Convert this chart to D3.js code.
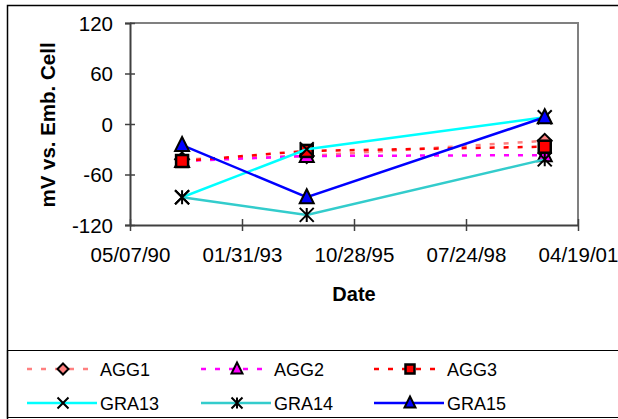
<!DOCTYPE html>
<html><head><meta charset="utf-8">
<script src="https://cdn.jsdelivr.net/npm/d3@7"></script>
<style>body{margin:0;background:#fff}svg{display:block;font-family:"Liberation Sans",Arial,sans-serif}</style>
</head><body><svg id="c" width="618" height="419"></svg>
<script>
const dates = ["1991-08-15", "1994-09-01", "2000-06-26"];
const seriesNames = ["AGG1", "AGG2", "AGG3", "GRA13", "GRA14", "GRA15"];
const AGG1 = [-42, -38, -20];
const AGG2 = [-44, -38, -37];
const AGG3 = [-44, -32, -27];
const GRA13 = [-87, -30, 8];
const GRA14 = [-87, -108, -42];
const GRA15 = [-25, -87, 8];
const yTicks = [-120, -60, 0, 60, 120];
const xTickLabels = ["05/07/90", "01/31/93", "10/28/95", "07/24/98", "04/19/01"];
const colors = ["#FF8080", "#FF00FF", "#FF0000", "#00FFFF", "#33CCCC", "#0000FF"];
const dashed = [true, true, true, false, false, false];
const markers = ["diamond", "triangle", "square", "x", "asterisk", "triangle"];
const values = [AGG1, AGG2, AGG3, GRA13, GRA14, GRA15];

const parse = d3.timeParse("%m/%d/%y");
const parseIso = d3.timeParse("%Y-%m-%d");
const xTicks = xTickLabels.map(parse);
const svg = d3.select("#c");
const L = 130, R = 578, T = 23, B = 225;
const FS = 20.5;
const x = d3.scaleTime().domain([xTicks[0], xTicks[xTicks.length - 1]]).range([L, R]);
const y = d3.scaleLinear().domain([-120, 120]).range([B, T]);

// outer chart border
svg.append("path").attr("d", "M7.5,419 V5.5 H618").attr("fill", "none").attr("stroke", "#000").attr("stroke-width", 1.5);
// legend box
svg.append("path").attr("d", "M618,350.5 H7.5 V417.5 H618").attr("fill", "none").attr("stroke", "#000").attr("stroke-width", 1.2);

// plot frame (top/right)
svg.append("path").attr("d", `M${L},${T} H${R} V${B}`).attr("fill", "none").attr("stroke", "#808080").attr("stroke-width", 2);

// y axis
const ya = svg.append("g").attr("transform", `translate(${L},0)`)
  .call(d3.axisLeft(y).tickValues(yTicks).tickSize(5).tickPadding(12).tickFormat(d => String(d)));
ya.select(".domain").attr("stroke", "#404040").attr("stroke-width", 2);
ya.selectAll(".tick line").attr("stroke", "#404040").attr("stroke-width", 1.5).attr("x2", -5).attr("x1", 5);
ya.selectAll("text").attr("font-size", FS).attr("fill", "#000").attr("dy", "0.36em")
  .attr("font-family", "Liberation Sans, Arial, sans-serif");

// x axis
const xa = svg.append("g").attr("transform", `translate(0,${B})`)
  .call(d3.axisBottom(x).tickValues(xTicks).tickSizeInner(6).tickSizeOuter(0).tickFormat(d3.timeFormat("%m/%d/%y")));
xa.select(".domain").attr("stroke", "#404040").attr("stroke-width", 2);
xa.selectAll(".tick line").attr("stroke", "#404040").attr("stroke-width", 1.5).attr("y1", -6);
xa.selectAll("text").attr("font-size", FS).attr("fill", "#000").attr("y", 37).attr("dy", 0)
  .attr("font-family", "Liberation Sans, Arial, sans-serif");

// axis titles
svg.append("text").attr("x", 354).attr("y", 301).attr("text-anchor", "middle")
  .attr("font-size", 20).attr("font-weight", "bold").text("Date");
svg.append("text").attr("transform", "translate(55,125) rotate(-90)").attr("text-anchor", "middle")
  .attr("font-size", 20.5).attr("font-weight", "bold").text("mV vs. Emb. Cell");

function drawMarker(g, type, cx, cy, fill, s) {
  const h = s / 2;
  if (type === "diamond") {
    g.append("path").attr("d", `M${cx},${cy - h} L${cx + h},${cy} L${cx},${cy + h} L${cx - h},${cy} Z`)
      .attr("fill", fill).attr("stroke", "#000").attr("stroke-width", 2);
  } else if (type === "triangle") {
    g.append("path").attr("d", `M${cx},${cy - h - 1} L${cx + h},${cy + h - 1} L${cx - h},${cy + h - 1} Z`)
      .attr("fill", fill).attr("stroke", "#000").attr("stroke-width", 2);
  } else if (type === "square") {
    g.append("rect").attr("x", cx - h + 1).attr("y", cy - h + 1).attr("width", s - 2).attr("height", s - 2)
      .attr("fill", fill).attr("stroke", "#000").attr("stroke-width", 2.5);
  } else if (type === "x") {
    g.append("path").attr("d", `M${cx - h},${cy - h} L${cx + h},${cy + h} M${cx + h},${cy - h} L${cx - h},${cy + h}`)
      .attr("stroke", "#000").attr("stroke-width", 2);
  } else if (type === "asterisk") {
    g.append("path").attr("d", `M${cx - h},${cy - h} L${cx + h},${cy + h} M${cx + h},${cy - h} L${cx - h},${cy + h} M${cx},${cy - h} L${cx},${cy + h}`)
      .attr("stroke", "#000").attr("stroke-width", 2);
  }
}

const line = d3.line().x(d => x(d.date)).y(d => y(d.v));
const plot = svg.append("g");
seriesNames.forEach((name, i) => {
  const pts = dates.map((d, j) => ({date: parseIso(d), v: values[i][j]}));
  plot.append("path").datum(pts).attr("d", line).attr("fill", "none")
    .attr("stroke", colors[i]).attr("stroke-width", 2.5)
    .attr("stroke-dasharray", dashed[i] ? "5,9" : null);
  pts.forEach(p => drawMarker(plot, markers[i], x(p.date), y(p.v), colors[i], 14));
});

// legend
const legCols = [27, 201, 374];
const legRows = [369, 403];
seriesNames.forEach((name, i) => {
  const cx = legCols[i % 3], cy = legRows[Math.floor(i / 3)];
  const g = svg.append("g");
  g.append("line").attr("x1", cx).attr("x2", cx + 70).attr("y1", cy).attr("y2", cy)
    .attr("stroke", colors[i]).attr("stroke-width", 2.5).attr("stroke-dasharray", dashed[i] ? "5,9" : null);
  drawMarker(g, markers[i], cx + 36, cy, colors[i], 11);
  g.append("text").attr("x", cx + 73).attr("y", cy + 7).attr("font-size", 18).text(name);
});
</script></body></html>
